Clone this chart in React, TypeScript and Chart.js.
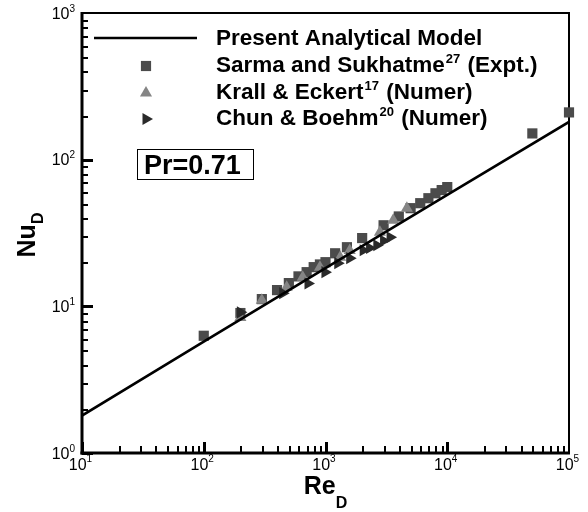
import React, { useEffect, useRef } from "react";
import { Chart, registerables } from "chart.js";

Chart.register(...registerables);

// ---------- data ----------
const modelRe = [10, 100, 1000, 10000, 100000];
const modelNu = [1.8, 5.75, 18.2, 57.5, 181];

const sarmaRe = [100, 200, 300, 400, 500, 600, 700, 800, 900, 1000, 1200, 1500, 2000, 3000, 4000, 5000, 6000, 7000, 8000, 9000, 10000, 50000, 100000];
const sarmaNu = [6.3, 9.0, 11.2, 12.9, 14.4, 16.0, 17.1, 18.5, 19.3, 20.0, 23.0, 25.3, 29.2, 35.7, 41.0, 46.7, 50.5, 54.6, 59.0, 62.0, 65.0, 151, 210];

const krallRe = [200, 300, 480, 650, 900, 1320, 1580, 2800, 3600, 4660];
const krallNu = [8.4, 11.0, 13.5, 15.8, 18.5, 21.6, 24.0, 32.0, 38.7, 46.7];

const chunRe = [200, 445, 718, 990, 1260, 1580, 2040, 2300, 2640, 3000, 3390];
const chunNu = [9.1, 12.3, 14.3, 17.1, 19.7, 21.3, 24.1, 25.0, 26.1, 28.0, 29.6];

const xDecades = [1, 2, 3, 4, 5];
const yDecades = [0, 1, 2, 3];
const minorMultipliers = [2, 3, 4, 5, 6, 7, 8, 9];

const legendLabels: [string, string, string][] = [
  ["Present Analytical Model", "", ""],
  ["Sarma and Sukhatme", "27", " (Expt.)"],
  ["Krall & Eckert", "17", " (Numer)"],
  ["Chun & Boehm", "20", " (Numer)"],
];
const prLabel = "Pr=0.71";

const SQUARE_COLOR = "#4b4b4b";
const TRI_COLOR = "#858585";
const ARROW_COLOR = "#2a2a2a";
const FONT = '"Liberation Sans", Arial, Helvetica, sans-serif';

const toXY = (xs: number[], ys: number[]) => xs.map((x, i) => ({ x, y: ys[i] }));

function drawMarker(ctx: CanvasRenderingContext2D, kind: string, x: number, y: number, r: number, color: string) {
  ctx.save();
  ctx.fillStyle = color;
  ctx.beginPath();
  if (kind === "rect") {
    const s = Math.SQRT1_2 * r;
    ctx.rect(x - s, y - s, 2 * s, 2 * s);
  } else {
    const rot = kind === "right" ? Math.PI / 2 : 0;
    for (let i = 0; i < 3; i++) {
      const a = rot + (i * 2 * Math.PI) / 3;
      const px = x + Math.sin(a) * r;
      const py = y - Math.cos(a) * r;
      if (i === 0) ctx.moveTo(px, py);
      else ctx.lineTo(px, py);
    }
    ctx.closePath();
  }
  ctx.fill();
  ctx.restore();
}

function paintTicks(chart: any) {
  const ctx = chart.ctx;
  const a = chart.chartArea;
  const xs = chart.scales.x;
  const ys = chart.scales.y;
  ctx.save();
  ctx.fillStyle = "#000";
  for (const e of yDecades) {
    if (e >= 3) continue;
    const base = Math.pow(10, e);
    ctx.fillRect(a.left, Math.round(ys.getPixelForValue(base)) - 1, 11, 3);
    for (const m of minorMultipliers) {
      ctx.fillRect(a.left, Math.round(ys.getPixelForValue(m * base)), 6, 2);
    }
  }
  for (const e of xDecades) {
    if (e >= 5) continue;
    const base = Math.pow(10, e);
    ctx.fillRect(Math.round(xs.getPixelForValue(base)) - 1, a.bottom - 11, 3, 11);
    for (const m of minorMultipliers) {
      ctx.fillRect(Math.round(xs.getPixelForValue(m * base)), a.bottom - 7, 2, 7);
    }
  }
  ctx.restore();
}

export default function App() {
  const ref = useRef<HTMLCanvasElement | null>(null);
  useEffect(() => {
    if (!ref.current) return;
    const framePlugin = {
      id: "frame",
      beforeDatasetsDraw(chart: any) {
        const ctx = chart.ctx;
        const a = chart.chartArea;
        ctx.save();
        ctx.fillStyle = "#000";
        ctx.fillRect(a.left, a.top - 1, a.right - a.left + 1, 2);
        ctx.fillRect(a.right - 1, a.top - 1, 2, a.bottom - a.top + 2);
        ctx.fillRect(a.left - 1.5, a.top - 1, 3, a.bottom - a.top + 2.5);
        ctx.fillRect(a.left - 1.5, a.bottom - 1.5, a.right - a.left + 2.5, 3);
        ctx.restore();
        paintTicks(chart);
      },
      afterDraw(chart: any) {
        paintTicks(chart);
        const ctx = chart.ctx;
        const a = chart.chartArea;
        const xs = chart.scales.x;
        const ys = chart.scales.y;
        ctx.save();
        ctx.fillStyle = "#000";
        ctx.textBaseline = "alphabetic";
        ctx.textAlign = "left";
        const mainF = `16px ${FONT}`;
        const supF = `10px ${FONT}`;
        for (const e of yDecades) {
          const py = ys.getPixelForValue(Math.pow(10, e));
          ctx.font = supF;
          const ws = ctx.measureText(String(e)).width;
          ctx.font = mainF;
          const wm = ctx.measureText("10").width;
          const right = a.left - 7;
          ctx.fillText("10", right - ws - wm, py + 5.5);
          ctx.font = supF;
          ctx.fillText(String(e), right - ws, py - 1.5);
        }
        for (const e of xDecades) {
          const px = xs.getPixelForValue(Math.pow(10, e));
          ctx.font = supF;
          const ws = ctx.measureText(String(e)).width;
          ctx.font = mainF;
          const wm = ctx.measureText("10").width;
          const start = px - (wm + ws) / 2 - 1.5;
          ctx.fillText("10", start, a.bottom + 17);
          ctx.font = supF;
          ctx.fillText(String(e), start + wm, a.bottom + 9);
        }

        // axis titles
        const tF = `bold 25px ${FONT}`;
        const sF = `bold 16px ${FONT}`;
        ctx.font = tF;
        const wRe = ctx.measureText("Re").width;
        ctx.font = sF;
        const wD = ctx.measureText("D").width;
        const cx = (a.left + a.right) / 2;
        ctx.font = tF;
        ctx.fillText("Re", cx - (wRe + wD) / 2, a.bottom + 41);
        ctx.font = sF;
        ctx.fillText("D", cx - (wRe + wD) / 2 + wRe, a.bottom + 55);

        ctx.save();
        const cy = (a.top + a.bottom) / 2;
        ctx.translate(35, cy + 2);
        ctx.rotate(-Math.PI / 2);
        ctx.font = tF;
        const wNu = ctx.measureText("Nu").width;
        ctx.fillText("Nu", -(wNu + wD) / 2, 0);
        ctx.font = sF;
        ctx.fillText("D", -(wNu + wD) / 2 + wNu, 8);
        ctx.restore();

        // legend
        const lx = 216;
        const baselines = [45, 72, 99, 125];
        ctx.fillRect(94, 36.75, 103, 2.5);
        drawMarker(ctx, "rect", 146, 66, 7.2, SQUARE_COLOR);
        drawMarker(ctx, "tri", 146, 93, 7, TRI_COLOR);
        drawMarker(ctx, "right", 146, 119, 7, ARROW_COLOR);
        const LF = `bold 22.5px ${FONT}`;
        legendLabels.forEach(([main, sup, rest], i) => {
          const by = baselines[i];
          ctx.font = LF;
          ctx.fillText(main, lx, by);
          let x = lx + ctx.measureText(main).width;
          if (sup) {
            ctx.font = `bold 13px ${FONT}`;
            ctx.fillText(sup, x + 1, by - 9);
            x += ctx.measureText(sup).width + 2;
            ctx.font = LF;
            ctx.fillText(rest, x, by);
          }
        });

        // Pr box
        ctx.strokeStyle = "#000";
        ctx.lineWidth = 1;
        ctx.strokeRect(137.5, 149.5, 116, 30);
        ctx.font = `bold 27px ${FONT}`;
        ctx.fillText(prLabel, 144, 174);

        ctx.restore();
      },
    };
    const chart = new Chart(ref.current, {
      type: "scatter",
      data: {
        datasets: [
          {
            label: "Present Analytical Model",
            data: toXY(modelRe, modelNu),
            showLine: true,
            borderColor: "#000",
            borderWidth: 2.6,
            pointRadius: 0,
            order: 0,
          },
          {
            label: "Chun & Boehm",
            data: toXY(chunRe, chunNu),
            pointStyle: "triangle",
            rotation: 90,
            pointRadius: 7,
            backgroundColor: ARROW_COLOR,
            borderWidth: 0,
            order: 1,
            clip: false,
          },
          {
            label: "Krall & Eckert",
            data: toXY(krallRe, krallNu),
            pointStyle: "triangle",
            pointRadius: 7,
            backgroundColor: TRI_COLOR,
            borderWidth: 0,
            order: 2,
            clip: false,
          },
          {
            label: "Sarma and Sukhatme",
            data: toXY(sarmaRe, sarmaNu),
            pointStyle: "rect",
            pointRadius: 7.2,
            backgroundColor: SQUARE_COLOR,
            borderWidth: 0,
            order: 3,
            clip: false,
          },
        ],
      } as any,
      options: {
        animation: false,
        responsive: false,
        maintainAspectRatio: false,
        layout: { padding: { left: 82, right: 19, top: 13, bottom: 59 } },
        plugins: { legend: { display: false }, tooltip: { enabled: false } },
        scales: {
          x: { type: "logarithmic", min: 10, max: 100000, display: false },
          y: { type: "logarithmic", min: 1, max: 1000, display: false },
        },
      } as any,
      plugins: [framePlugin],
    });
    return () => chart.destroy();
  }, []);
  return (
    <div style={{ position: "fixed", left: 0, top: 0, width: 588, height: 512, background: "#fff" }}>
      <canvas ref={ref} width={588} height={512} style={{ width: 588, height: 512, display: "block" }} />
    </div>
  );
}
